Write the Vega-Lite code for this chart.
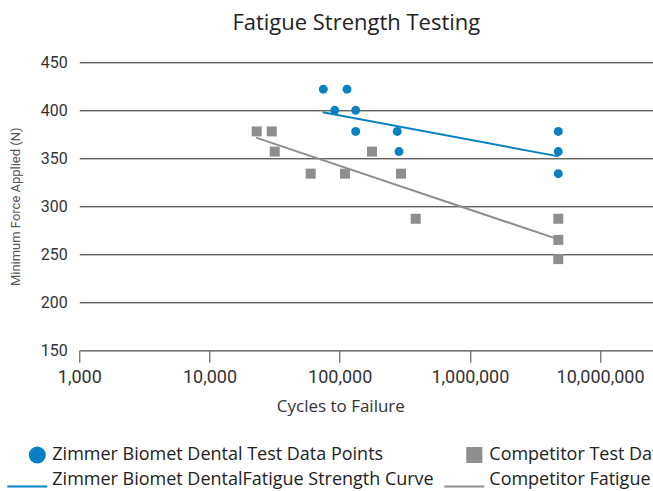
{
  "$schema": "https://vega.github.io/schema/vega-lite/v6.json",
  "width": 574,
  "height": 288,
  "autosize": {"type": "none"},
  "padding": {"left": 79.3, "top": 62.3, "right": 0, "bottom": 140.7},
  "background": "white",
  "title": {
    "text": "Fatigue Strength Testing",
    "anchor": "middle",
    "frame": "group",
    "dx": -10,
    "offset": 2,
    "baseline": "alphabetic",
    "font": "Open Sans",
    "fontSize": 22,
    "fontWeight": "normal",
    "color": "#222"
  },
  "datasets": {
    "zimmer": [
      {"series": "Zimmer Biomet Dental Test Data Points", "cycles": 74800, "force": 422},
      {"series": "Zimmer Biomet Dental Test Data Points", "cycles": 113800, "force": 422},
      {"series": "Zimmer Biomet Dental Test Data Points", "cycles": 91600, "force": 400},
      {"series": "Zimmer Biomet Dental Test Data Points", "cycles": 132700, "force": 400},
      {"series": "Zimmer Biomet Dental Test Data Points", "cycles": 132700, "force": 378},
      {"series": "Zimmer Biomet Dental Test Data Points", "cycles": 276900, "force": 378},
      {"series": "Zimmer Biomet Dental Test Data Points", "cycles": 285400, "force": 357},
      {"series": "Zimmer Biomet Dental Test Data Points", "cycles": 4775000, "force": 378},
      {"series": "Zimmer Biomet Dental Test Data Points", "cycles": 4775000, "force": 357},
      {"series": "Zimmer Biomet Dental Test Data Points", "cycles": 4775000, "force": 334}
    ],
    "competitor": [
      {"series": "Competitor Test Data Points", "cycles": 23040, "force": 378},
      {"series": "Competitor Test Data Points", "cycles": 30060, "force": 378},
      {"series": "Competitor Test Data Points", "cycles": 31700, "force": 357},
      {"series": "Competitor Test Data Points", "cycles": 59870, "force": 334},
      {"series": "Competitor Test Data Points", "cycles": 109800, "force": 334},
      {"series": "Competitor Test Data Points", "cycles": 177000, "force": 357},
      {"series": "Competitor Test Data Points", "cycles": 295800, "force": 334},
      {"series": "Competitor Test Data Points", "cycles": 383600, "force": 287},
      {"series": "Competitor Test Data Points", "cycles": 4775000, "force": 287},
      {"series": "Competitor Test Data Points", "cycles": 4775000, "force": 265},
      {"series": "Competitor Test Data Points", "cycles": 4775000, "force": 245}
    ],
    "curves": [
      {"series": "Zimmer Biomet DentalFatigue Strength Curve", "cycles": 73960, "force": 398},
      {"series": "Zimmer Biomet DentalFatigue Strength Curve", "cycles": 4800000, "force": 352},
      {"series": "Competitor Fatigue Strength Curve", "cycles": 22760, "force": 371.5},
      {"series": "Competitor Fatigue Strength Curve", "cycles": 4800000, "force": 265.5}
    ]
  },
  "encoding": {
    "x": {
      "field": "cycles",
      "type": "quantitative",
      "scale": {"type": "log", "domain": [1000, 25630000], "nice": false},
      "axis": {
        "values": [1000, 10000, 100000, 1000000, 10000000],
        "format": ",",
        "title": "Cycles to Failure",
        "titleX": 261,
        "grid": false,
        "domainColor": "#777",
        "domainWidth": 1.5,
        "tickColor": "#444",
        "tickSize": 12,
        "labelFont": "Roboto",
        "labelFontSize": 18,
        "labelColor": "#333",
        "labelPadding": 6,
        "labelFlush": false,
        "labelOverlap": false,
        "titleFont": "Open Sans",
        "titleFontSize": 17,
        "titleFontWeight": "normal",
        "titleColor": "#333",
        "titlePadding": 12
      }
    },
    "y": {
      "field": "force",
      "type": "quantitative",
      "scale": {"domain": [150, 450], "nice": false, "zero": false},
      "axis": {
        "values": [150, 200, 250, 300, 350, 400, 450],
        "title": "Minimum Force Applied (N)",
        "grid": true,
        "gridColor": {"condition": {"test": "datum.value == 150", "value": "#777"}, "value": "#222"},
        "gridWidth": 1,
        "domain": false,
        "ticks": false,
        "labelFont": "Roboto",
        "labelFontSize": 16,
        "labelColor": "#333",
        "labelPadding": 12,
        "titleFont": "Roboto",
        "titleFontSize": 13,
        "titleFontWeight": "normal",
        "titleColor": "#555",
        "titlePadding": 18
      }
    }
  },
  "layer": [
    {
      "data": {"name": "curves"},
      "mark": {"type": "line", "strokeWidth": 2},
      "encoding": {
        "detail": {"field": "series", "type": "nominal"},
        "color": {
          "field": "series",
          "type": "nominal",
          "scale": {
            "domain": ["Zimmer Biomet Dental Test Data Points", "Competitor Test Data Points", "Zimmer Biomet DentalFatigue Strength Curve", "Competitor Fatigue Strength Curve"],
            "range": ["#0a80c4", "#8e8e8e", "#0a80c4", "#8e8e8e"]
          },
          "legend": {
            "orient": "none",
            "legendX": -73,
            "legendY": 380.2,
            "direction": "horizontal",
            "columns": 2,
            "title": null,
            "labelFont": "Open Sans",
            "labelFontSize": 18,
            "labelColor": "#222",
            "labelLimit": 600,
            "symbolSize": 1600,
            "clipHeight": 25,
            "rowPadding": 0,
            "columnPadding": 9,
            "labelOffset": 4,
            "padding": 0,
            "symbolStrokeWidth": 2,
            "encode": {
              "symbols": {
                "update": {
                  "fill": {"scale": "color", "field": "value"},
                  "stroke": {"scale": "color", "field": "value"},
                  "strokeWidth": {"value": 2},
                  "opacity": {"value": 1},
                  "size": {"signal": "datum.value == 'Zimmer Biomet Dental Test Data Points' ? 227 : datum.value == 'Competitor Test Data Points' ? 200 : 1600"},
                  "x": {"signal": "(datum.value == 'Zimmer Biomet Dental Test Data Points' || datum.value == 'Competitor Test Data Points') ? 31 : 21"},
                  "y": {"signal": "(datum.value == 'Zimmer Biomet Dental Test Data Points' || datum.value == 'Competitor Test Data Points') ? 12.5 : 19"}
                }
              }
            }
          }
        }
      }
    },
    {
      "data": {"name": "zimmer"},
      "mark": {"type": "point", "filled": true, "opacity": 1, "size": 80},
      "encoding": {
        "color": {
          "field": "series",
          "type": "nominal",
          "scale": {
            "domain": ["Zimmer Biomet Dental Test Data Points", "Competitor Test Data Points", "Zimmer Biomet DentalFatigue Strength Curve", "Competitor Fatigue Strength Curve"],
            "range": ["#0a80c4", "#8e8e8e", "#0a80c4", "#8e8e8e"]
          }
        },
        "shape": {
          "field": "series",
          "type": "nominal",
          "scale": {
            "domain": ["Zimmer Biomet Dental Test Data Points", "Competitor Test Data Points", "Zimmer Biomet DentalFatigue Strength Curve", "Competitor Fatigue Strength Curve"],
            "range": ["circle", "square", "stroke", "stroke"]
          }
        }
      }
    },
    {
      "data": {"name": "competitor"},
      "mark": {"type": "point", "filled": true, "opacity": 1, "size": 100},
      "encoding": {
        "color": {
          "field": "series",
          "type": "nominal",
          "scale": {
            "domain": ["Zimmer Biomet Dental Test Data Points", "Competitor Test Data Points", "Zimmer Biomet DentalFatigue Strength Curve", "Competitor Fatigue Strength Curve"],
            "range": ["#0a80c4", "#8e8e8e", "#0a80c4", "#8e8e8e"]
          }
        },
        "shape": {
          "field": "series",
          "type": "nominal",
          "scale": {
            "domain": ["Zimmer Biomet Dental Test Data Points", "Competitor Test Data Points", "Zimmer Biomet DentalFatigue Strength Curve", "Competitor Fatigue Strength Curve"],
            "range": ["circle", "square", "stroke", "stroke"]
          }
        }
      }
    }
  ],
  "config": {
    "view": {"stroke": null},
    "font": "Roboto"
  }
}
